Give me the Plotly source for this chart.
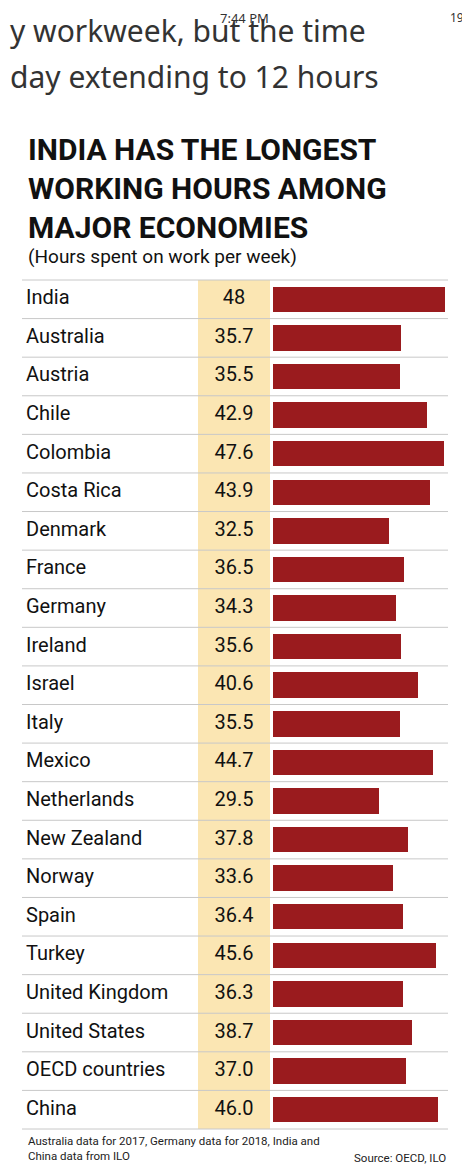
import plotly.graph_objects as go

countries = ["India", "Australia", "Austria", "Chile", "Colombia", "Costa Rica",
             "Denmark", "France", "Germany", "Ireland", "Israel", "Italy", "Mexico",
             "Netherlands", "New Zealand", "Norway", "Spain", "Turkey",
             "United Kingdom", "United States", "OECD countries", "China"]
hours = [48, 35.7, 35.5, 42.9, 47.6, 43.9, 32.5, 36.5, 34.3, 35.6, 40.6, 35.5,
         44.7, 29.5, 37.8, 33.6, 36.4, 45.6, 36.3, 38.7, 37.0, 46.0]
labels = ["48", "35.7", "35.5", "42.9", "47.6", "43.9", "32.5", "36.5", "34.3",
          "35.6", "40.6", "35.5", "44.7", "29.5", "37.8", "33.6", "36.4", "45.6",
          "36.3", "38.7", "37.0", "46.0"]

W, H = 470, 1170
FONT = "Roboto"
y_top, y_bot = 1 - 272 / H, 1 - 1121 / H

fig = go.Figure()
fig.add_trace(go.Bar(
    x=hours, y=countries, orientation="h", width=0.66,
    marker=dict(color="#9a1b1e", line=dict(width=0)),
    xaxis="x", yaxis="y", showlegend=False, hoverinfo="skip",
))
# country names and values as text on a second x axis spanning the table
fig.add_trace(go.Scatter(
    x=[18] * len(countries), y=countries, mode="text", text=countries,
    textposition="middle right", textfont=dict(family=FONT, size=20, color="#111"),
    xaxis="x2", yaxis="y", showlegend=False, hoverinfo="skip",
))
fig.add_trace(go.Scatter(
    x=[226] * len(countries), y=countries, mode="text", text=labels,
    textposition="middle center", textfont=dict(family=FONT, size=20, color="#111"),
    xaxis="x2", yaxis="y", showlegend=False, hoverinfo="skip",
))

shapes = [dict(type="rect", xref="paper", yref="paper", x0=190 / W, x1=262 / W,
               y0=y_bot, y1=y_top, fillcolor="#fbe6b3", line=dict(width=0), layer="below")]
n = len(countries)
for i in range(n + 1):
    yy = y_top - (y_top - y_bot) * i / n
    shapes.append(dict(type="line", xref="paper", yref="paper", x0=14 / W, x1=440 / W,
                       y0=yy, y1=yy, line=dict(color="#c8c8c8", width=1), layer="below"))

ann = [
    dict(x=0 / W, y=1 - 22 / H, text="y workweek, but the time", font=dict(size=30, family="Noto Sans", color="#333")),
    dict(x=0 / W, y=1 - 68 / H, text="day extending to 12 hours", font=dict(size=30, family="Noto Sans", color="#333")),
    dict(x=210 / W, y=1 - 10 / H, text="7:44 PM", font=dict(size=13, family="Noto Sans", color="#333")),
    dict(x=18 / W, y=1 - 180 / H, text="<b>INDIA HAS THE LONGEST<br>WORKING HOURS AMONG<br>MAJOR ECONOMIES</b>",
         font=dict(size=30, family=FONT, color="#111"), align="left"),
    dict(x=18 / W, y=1 - 248 / H, text="(Hours spent on work per week)", font=dict(size=19, family=FONT, color="#111")),
    dict(x=18 / W, y=1 - 1140 / H, text="Australia data for 2017, Germany data for 2018, India and<br>China data from ILO",
         font=dict(size=11.5, family=FONT, color="#222"), align="left"),
]
for a in ann:
    a.update(xref="paper", yref="paper", xanchor="left", yanchor="middle", showarrow=False)
ann.append(dict(x=468 / W, y=1 - 10 / H, xref="paper", yref="paper", xanchor="right", yanchor="middle",
                showarrow=False, text="19%", font=dict(size=12, family="Noto Sans", color="#333")))
ann.append(dict(x=440 / W, y=1 - 1150 / H, xref="paper", yref="paper", xanchor="right", yanchor="middle",
                showarrow=False, text="Source: OECD, ILO", font=dict(size=11.5, family=FONT, color="#222")))

fig.update_layout(
    width=W, height=H, margin=dict(l=0, r=0, t=0, b=0),
    paper_bgcolor="white", plot_bgcolor="rgba(0,0,0,0)",
    xaxis=dict(domain=[265 / W, 437 / W], range=[0, 48], visible=False),
    xaxis2=dict(domain=[0, 1], range=[0, W], anchor="y", visible=False),
    yaxis=dict(domain=[y_bot, y_top], range=[n - 0.5, -0.5], visible=False,
               categoryorder="array", categoryarray=countries),
    shapes=shapes, annotations=ann, bargap=0,
)
fig.write_html("out.html")
